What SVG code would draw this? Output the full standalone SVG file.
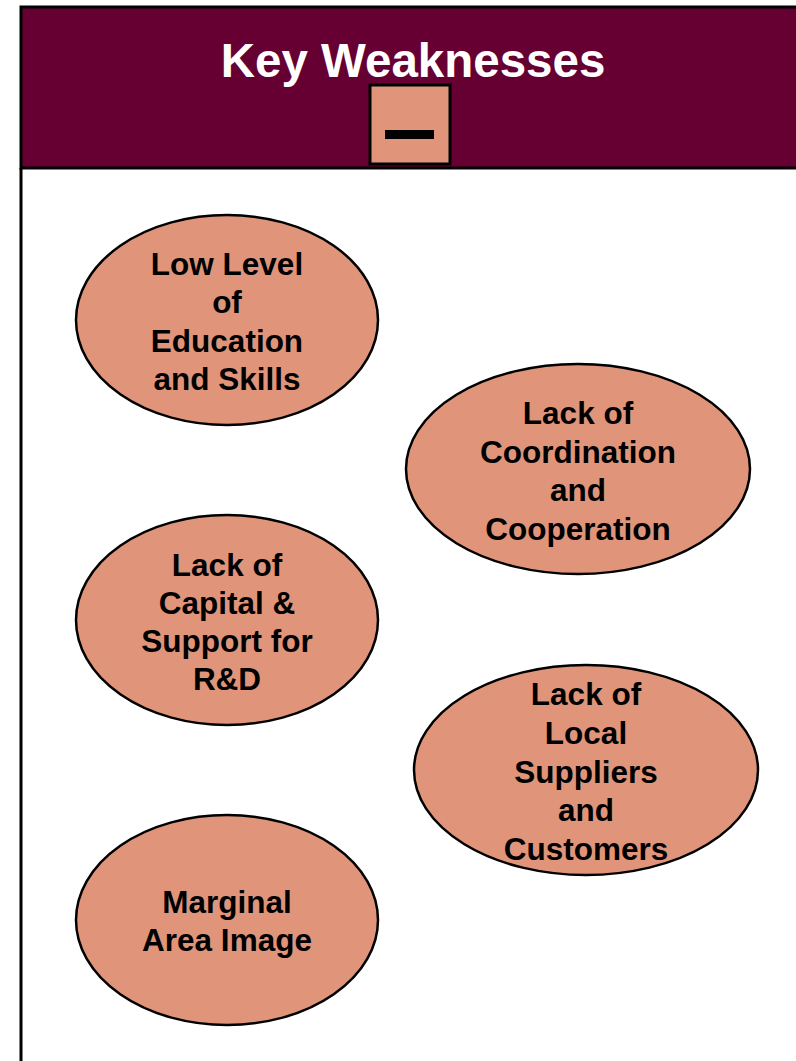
<svg xmlns="http://www.w3.org/2000/svg" width="796" height="1061" viewBox="0 0 796 1061">
<style>
.node ellipse{fill:#E0957A;stroke:#000;stroke-width:2.5}
.node text{font-family:"Liberation Sans",Arial,sans-serif;font-weight:bold;font-size:31.5px;fill:#000;text-anchor:middle}
.title{font-family:"Liberation Sans",Arial,sans-serif;font-weight:bold;font-size:47.5px;fill:#fff;text-anchor:middle}
</style>
<rect x="0" y="0" width="796" height="1061" fill="#fff"/>
<g id="header">
<rect x="21" y="7" width="790" height="161" fill="#660033" stroke="#000" stroke-width="3"/>
<text class="title" x="413" y="77">Key Weaknesses</text>
<rect x="370" y="85" width="80" height="79" fill="#E0957A" stroke="#000" stroke-width="3"/>
<rect x="385" y="130" width="49" height="9" fill="#000"/>
</g>
<line x1="21" y1="168" x2="21" y2="1061" stroke="#000" stroke-width="3"/>
<g id="connectors"></g>
<g id="n1" class="node">
<ellipse cx="227" cy="320" rx="151" ry="105"/>
<text x="227" y="275">Low Level</text>
<text x="227" y="313">of</text>
<text x="227" y="352">Education</text>
<text x="227" y="390">and Skills</text>
</g>
<g id="n2" class="node">
<ellipse cx="578" cy="469" rx="172" ry="105"/>
<text x="578" y="424">Lack of</text>
<text x="578" y="463">Coordination</text>
<text x="578" y="501">and</text>
<text x="578" y="540">Cooperation</text>
</g>
<g id="n3" class="node">
<ellipse cx="227" cy="620" rx="151" ry="105"/>
<text x="227" y="576">Lack of</text>
<text x="227" y="614">Capital &amp;</text>
<text x="227" y="652">Support for</text>
<text x="227" y="690">R&amp;D</text>
</g>
<g id="n4" class="node">
<ellipse cx="586" cy="770" rx="172" ry="105"/>
<text x="586" y="705">Lack of</text>
<text x="586" y="744">Local</text>
<text x="586" y="783">Suppliers</text>
<text x="586" y="821">and</text>
<text x="586" y="860">Customers</text>
</g>
<g id="n5" class="node">
<ellipse cx="227" cy="920" rx="151" ry="105"/>
<text x="227" y="913">Marginal</text>
<text x="227" y="951">Area Image</text>
</g>
</svg>
